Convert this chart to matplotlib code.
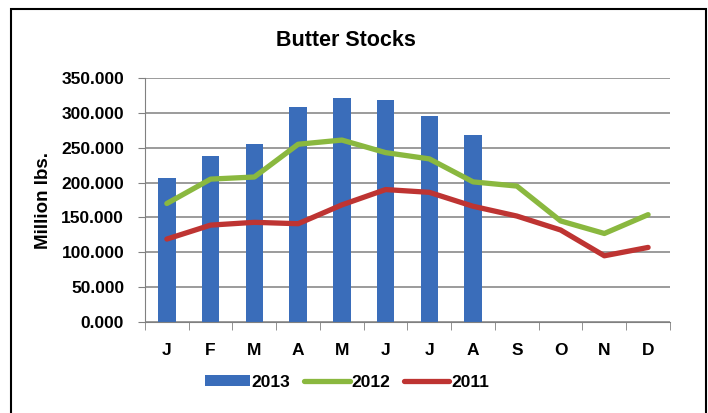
import numpy as np
import matplotlib
matplotlib.use('Agg')
import matplotlib.pyplot as plt
from matplotlib.patches import Rectangle

months = ['J', 'F', 'M', 'A', 'M', 'J', 'J', 'A', 'S', 'O', 'N', 'D']
stocks_2013 = [207, 238, 255, 309, 321, 319, 296, 268]
stocks_2012 = [170, 205, 208, 255, 261, 243, 234, 201, 195, 145, 127, 154]
stocks_2011 = [119, 139, 143, 141, 168, 190, 186, 166, 152, 132, 95, 107]
yticks = [0, 50, 100, 150, 200, 250, 300, 350]

plt.rcParams['font.family'] = ['Liberation Sans', 'DejaVu Sans']

fig = plt.figure(figsize=(7.08, 4.13), dpi=100)
ax = fig.add_axes([0.2048, 0.2203, 0.7415, 0.5908])

# outer frame like the pasted Excel chart
fig.patches.append(Rectangle((0.0155, -0.02), 0.9816, 0.998, transform=fig.transFigure,
                             fill=False, edgecolor='black', linewidth=1.5))

x = np.arange(len(months))
b13 = ax.bar(x[:len(stocks_2013)], stocks_2013, width=0.4, color='#3A6DBA', label='2013', zorder=2)
l12, = ax.plot(x, stocks_2012, color='#8AB83F', linewidth=3.8, label='2012', zorder=3,
               solid_capstyle='round', solid_joinstyle='round')
l11, = ax.plot(x, stocks_2011, color='#BE3432', linewidth=3.8, label='2011', zorder=3,
               solid_capstyle='round', solid_joinstyle='round')

ax.set_xlim(-0.5, 11.5)
ax.set_ylim(0, 350)
ax.set_yticks(yticks)
ax.set_yticklabels([f'{v:.3f}' for v in yticks], fontsize=12.5, fontweight='bold')
ax.set_xticks(x)
ax.set_xticklabels(months, fontsize=12.5, fontweight='bold')
ax.tick_params(axis='x', length=0, pad=15)
ax.set_xticks(np.arange(-0.5, 12, 1), minor=True)
ax.tick_params(axis='x', which='minor', length=6, color='#808080', direction='out')
ax.tick_params(axis='y', length=5, color='#808080', direction='out', pad=10)

ax.grid(axis='y', color='#808080', linewidth=1.1, zorder=0)
for s in ['top', 'right']:
    ax.spines[s].set_visible(False)
ax.spines['left'].set_color('#808080')
ax.spines['bottom'].set_color('#808080')

ax.set_ylabel('Million lbs.', fontsize=13.5, fontweight='bold', labelpad=7)
fig.text(0.488, 0.903, 'Butter Stocks', ha='center', va='center', fontsize=15.5, fontweight='bold')

fig.legend([b13, l12, l11], ['2013', '2012', '2011'], loc='center',
           bbox_to_anchor=(0.49, 0.075), ncol=3, frameon=False,
           prop={'size': 12.5, 'weight': 'bold'}, handlelength=2.6, handleheight=0.6,
           handletextpad=0.1, columnspacing=0.8)

fig.savefig('out.png', dpi=100)
